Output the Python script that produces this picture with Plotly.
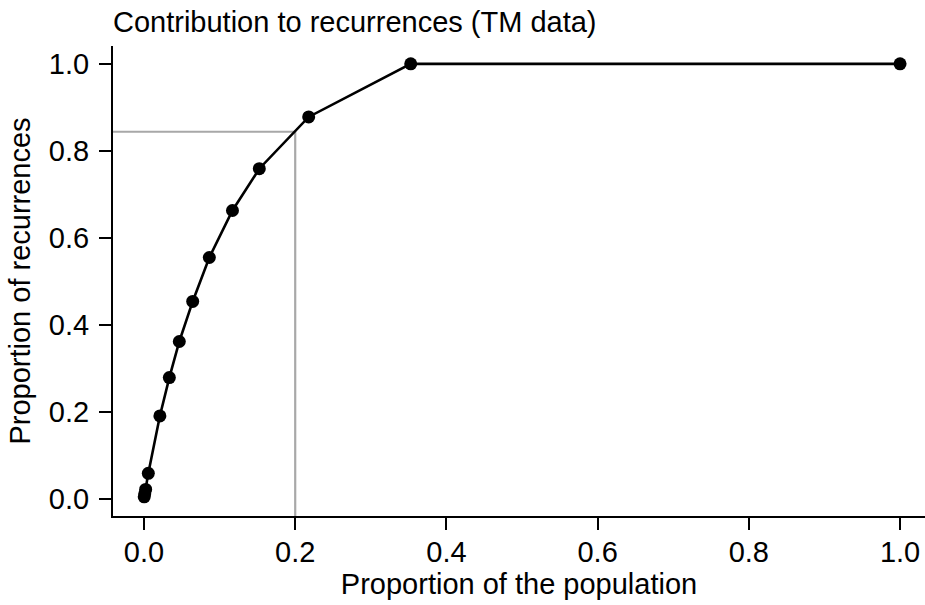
import plotly.graph_objects as go

# Data
pop_prop = [0.0003, 0.0010, 0.0022, 0.0057, 0.0210, 0.0335, 0.0467, 0.0644,
            0.0864, 0.1170, 0.1525, 0.2178, 0.3528, 1.0]
rec_prop = [0.005, 0.012, 0.022, 0.059, 0.191, 0.279, 0.362, 0.454,
            0.555, 0.663, 0.759, 0.878, 1.0, 1.0]

ref_x = 0.2
ref_y = 0.844

x_range = [-0.041, 1.033]
y_range = [-0.039, 1.041]

x_ticks = [0.0, 0.2, 0.4, 0.6, 0.8, 1.0]
y_ticks = [0.0, 0.2, 0.4, 0.6, 0.8, 1.0]

FONT = "Liberation Sans, Arial, Helvetica, sans-serif"
FS = 29

fig = go.Figure()

# grey reference lines
fig.add_trace(go.Scatter(
    x=[x_range[0], ref_x, ref_x], y=[ref_y, ref_y, y_range[0]],
    mode="lines", line=dict(color="#a8a8a8", width=2.2),
    hoverinfo="skip", showlegend=False, cliponaxis=False))

fig.add_trace(go.Scatter(
    x=pop_prop, y=rec_prop, mode="lines+markers",
    line=dict(color="black", width=2.6),
    marker=dict(color="black", size=13),
    showlegend=False, cliponaxis=False))

axis_common = dict(
    showline=True, linecolor="black", linewidth=2,
    ticks="outside", ticklen=12, tickwidth=2, tickcolor="black",
    showgrid=False, zeroline=False, automargin=False,
    tickfont=dict(family=FONT, size=FS, color="black"),
    tickformat=".1f",
)

fig.update_layout(
    width=925, height=605,
    margin=dict(l=113, r=0, t=46, b=89, autoexpand=False),
    paper_bgcolor="white", plot_bgcolor="white",
    font=dict(family=FONT, size=FS, color="black"),
    title=dict(text="Contribution to recurrences (TM data)",
               x=0, xref="paper", xanchor="left",
               y=1 - 22 / 605, yref="container", yanchor="middle",
               font=dict(family=FONT, size=FS, color="black")),
    xaxis=dict(range=x_range, tickvals=x_ticks, ticklabelstandoff=-3,
               title=dict(text="Proportion of the population", standoff=3,
                          font=dict(family=FONT, size=FS)),
               **axis_common),
    yaxis=dict(range=y_range, tickvals=y_ticks, ticklabelstandoff=4,
               title=dict(text="Proportion of recurrences", standoff=10,
                          font=dict(family=FONT, size=FS)),
               **axis_common),
)

fig.write_html("out.html", config={"displayModeBar": False},
               post_script="document.body.style.margin='0';document.body.style.overflow='hidden';")
